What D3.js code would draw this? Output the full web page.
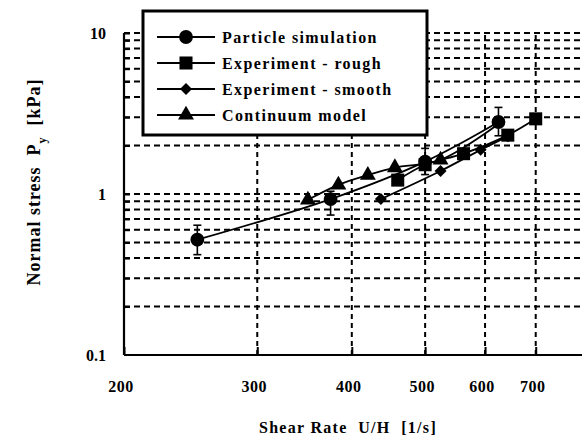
<!DOCTYPE html>
<html>
<head>
<meta charset="utf-8">
<script src="https://cdn.jsdelivr.net/npm/d3@7"></script>
<style>
  body { margin: 0; background: #fff; }
  svg { display: block; }
  text { font-family: "Liberation Serif", "Times New Roman", serif; font-weight: bold; fill: #000; }
</style>
</head>
<body>
<div id="chart"></div>
<script>
// Particle simulation (circles, with error bars)
const simX = [250, 375, 500, 625]
const simY = [0.52, 0.93, 1.59, 2.8]
const simHi = [0.64, 1.04, 1.92, 3.45]
const simLo = [0.42, 0.74, 1.32, 2.3]

// Experiment - rough (squares)
const roughX = [460, 500, 562, 643, 700]
const roughY = [1.22, 1.52, 1.78, 2.32, 2.93]

// Experiment - smooth (diamonds)
const smoothX = [437, 524, 592, 643]
const smoothY = [0.93, 1.39, 1.88, 2.28]

// Continuum model (triangles); its last point sits under the 625 circle
const contX = [350, 384, 420, 456, 524, 625]
const contY = [0.92, 1.14, 1.31, 1.46, 1.63, 2.72]
const contMarked = [true, true, true, true, true, false]

const xTicks = [200, 300, 400, 500, 600, 700]
const yLabels = [0.1, 1, 10]
const yGrid = [0.2, 0.3, 0.4, 0.5, 0.6, 0.7, 0.8, 0.9, 1, 2, 3, 4, 5, 6, 7, 8, 9, 10]

const legendNames = ['Particle simulation', 'Experiment - rough', 'Experiment - smooth', 'Continuum model']
const legendShapes = ['circle', 'square', 'diamond', 'triangle']

const W = 582, H = 438
const margin = { top: 33, right: 3, bottom: 83, left: 124 }

const svg = d3.select('#chart').append('svg')
  .attr('width', W).attr('height', H)

const x = d3.scaleLog().domain([200, 800]).range([margin.left, W - margin.right + 0.6])
const y = d3.scaleLog().domain([0.1, 10]).range([H - margin.bottom, margin.top])

// Gridlines
svg.append('g').selectAll('line')
  .data(yGrid)
  .join('line')
  .attr('x1', margin.left).attr('x2', W)
  .attr('y1', d => y(d)).attr('y2', d => y(d))
  .attr('stroke', '#000').attr('stroke-width', 2)
  .attr('stroke-dasharray', '6,4')

svg.append('g').selectAll('line')
  .data(xTicks.slice(1))
  .join('line')
  .attr('x1', d => x(d)).attr('x2', d => x(d))
  .attr('y1', y(0.1)).attr('y2', y(10))
  .attr('stroke', '#000').attr('stroke-width', 2)
  .attr('stroke-dasharray', '5,4')

// Axes
svg.append('g')
  .attr('transform', `translate(0,${y(0.1)})`)
  .call(d3.axisBottom(x).tickValues(xTicks).tickSize(-8).tickFormat(''))
  .call(g => {
    g.select('.domain').attr('stroke-width', 2.2).attr('d', `M${margin.left},0H${W}`)
    g.selectAll('.tick line').attr('stroke-width', 2)
  })

svg.append('g')
  .attr('transform', `translate(${margin.left},0)`)
  .call(d3.axisLeft(y).tickValues(yGrid).tickSize(-6).tickFormat(''))
  .call(g => {
    g.select('.domain').attr('stroke-width', 2.2).attr('d', `M0,${y(10)}V${y(0.1)}`)
    g.selectAll('.tick line').attr('stroke-width', 2)
  })

// Tick labels
svg.append('g').selectAll('text')
  .data(xTicks)
  .join('text')
  .attr('x', d => x(d) - 3).attr('y', 392)
  .attr('text-anchor', 'middle')
  .attr('font-size', '16px')
  .attr('letter-spacing', '0.5px')
  .text(d => d)

svg.append('g').selectAll('text')
  .data(yLabels)
  .join('text')
  .attr('x', 106).attr('y', d => y(d) + 6)
  .attr('text-anchor', 'end')
  .attr('font-size', '16px')
  .text(d => d)

// Axis titles
svg.append('text')
  .attr('x', 348).attr('y', 433)
  .attr('text-anchor', 'middle')
  .attr('font-size', '16px')
  .attr('letter-spacing', '1.3px')
  .style('white-space', 'pre')
  .text('Shear Rate  U/H  [1/s]')

const yTitle = svg.append('text')
  .attr('transform', 'translate(40,182) rotate(-90)')
  .attr('text-anchor', 'middle')
  .attr('font-size', '18px')
  .attr('letter-spacing', '1px')
  .style('white-space', 'pre')
yTitle.append('tspan').text('Normal stress  P')
yTitle.append('tspan').attr('dy', 6).attr('font-size', '12px').text('y')
yTitle.append('tspan').attr('dy', -6).text('  [kPa]')

// Series
const line = d3.line().x(d => x(d[0])).y(d => y(d[1])).curve(d3.curveCatmullRom.alpha(0.5))

function symbolPath(shape) {
  const map = {
    circle: d3.symbol(d3.symbolCircle, 150),
    square: d3.symbol(d3.symbolSquare, 170),
    diamond: d3.symbol(d3.symbolSquare, 72),
    triangle: d3.symbol(d3.symbolTriangle, 110),
  }
  return map[shape]()
}

const series = [
  { xs: contX, ys: contY, shape: 'triangle', marked: contMarked },
  { xs: smoothX, ys: smoothY, shape: 'diamond' },
  { xs: roughX, ys: roughY, shape: 'square' },
  { xs: simX, ys: simY, shape: 'circle' },
]

series.forEach(s => {
  const pts = s.xs.map((v, i) => [v, s.ys[i]])
  svg.append('path')
    .attr('d', line(pts))
    .attr('fill', 'none').attr('stroke', '#000').attr('stroke-width', 1.8)
})

// Error bars on the simulation points
const errG = svg.append('g').attr('stroke', '#000').attr('stroke-width', 1.6)
simX.forEach((v, i) => {
  errG.append('line')
    .attr('x1', x(v)).attr('x2', x(v))
    .attr('y1', y(simHi[i])).attr('y2', y(simLo[i]))
  ;[simHi[i], simLo[i]].forEach(e => {
    errG.append('line')
      .attr('x1', x(v) - 4).attr('x2', x(v) + 4)
      .attr('y1', y(e)).attr('y2', y(e))
  })
})

function markerTransform(shape, px, py) {
  return shape === 'diamond' ? `translate(${px},${py}) rotate(45)` : `translate(${px},${py})`
}

series.forEach(s => {
  const pts = s.xs.map((v, i) => [v, s.ys[i]]).filter((d, i) => !s.marked || s.marked[i])
  svg.append('g').selectAll('path')
    .data(pts)
    .join('path')
    .attr('transform', d => markerTransform(s.shape, x(d[0]), y(d[1])))
    .attr('d', symbolPath(s.shape))
    .attr('fill', '#000')
})

// Legend
const lg = svg.append('g')
lg.append('rect')
  .attr('x', 143).attr('y', 11).attr('width', 284).attr('height', 124)
  .attr('fill', '#fff').attr('stroke', '#000').attr('stroke-width', 3)

legendNames.forEach((name, i) => {
  const ly = 37 + i * 26
  lg.append('line')
    .attr('x1', 157).attr('x2', 215).attr('y1', ly).attr('y2', ly)
    .attr('stroke', '#000').attr('stroke-width', 1.8)
  lg.append('path')
    .attr('transform', markerTransform(legendShapes[i], 186, ly))
    .attr('d', symbolPath(legendShapes[i]))
    .attr('fill', '#000')
  lg.append('text')
    .attr('x', 222).attr('y', ly + 6)
    .attr('font-size', '16px')
    .attr('letter-spacing', '1.4px')
    .text(name)
})
</script>
</body>
</html>
